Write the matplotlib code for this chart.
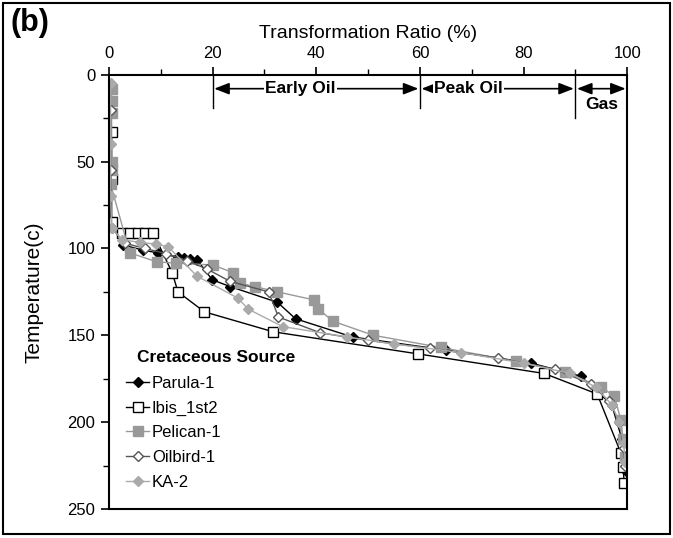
#!/usr/bin/env python
#######################################################################

import matplotlib
matplotlib.use('Agg')
import matplotlib.pyplot as plt
from matplotlib.patches import Rectangle
from matplotlib.ticker import MultipleLocator

plt.rcParams['font.family'] = ['Liberation Sans', 'DejaVu Sans']

#######################################################################
# Data (transformation ratio %, temperature C)

parula_x = [0.2, 0.3, 2.7, 6.6, 9.5, 13.3, 14.5, 15.7, 17, 19.9, 23.4,
            32.5, 36, 47, 65, 81.4, 91, 97, 99, 99.5, 99.7]
parula_t = [70, 85, 98, 101, 102.6, 105, 105.5, 106, 106.5, 118, 122,
            131, 140.5, 151, 158.5, 166, 173.5, 190, 210, 222, 228]

ibis_x = [0.5, 0.5, 0.5, 2.5, 4, 5.5, 7, 8.5, 12.2, 13.3, 18.4, 31.7,
          59.6, 84, 94.2, 98.8, 99.2, 99.4]
ibis_t = [33, 60, 85, 91, 91, 91, 91, 91, 114, 125, 136.5, 148,
          160.7, 172, 183.8, 218, 226, 235]

pelican_x = [0.5, 0.5, 0.5, 0.5, 0.5, 0.3, 4, 9.2, 13, 20, 24, 25.3,
             28.2, 32.5, 39.5, 40.4, 43.3, 51, 64, 78.5, 88, 95, 97.5,
             98.8, 99.2, 99.5]
pelican_t = [8, 15, 22, 50, 55, 63, 102.5, 107.7, 108.5, 109.5, 114, 120,
             122, 125, 129.6, 135, 142, 150, 157, 165, 171, 180, 185,
             199, 210, 220]

oilbird_x = [0.3, 0.3, 0.5, 3, 7, 11, 15, 19, 23.4, 30.8, 32.7, 40.8,
             50, 62, 75, 86, 93, 96.5, 98.5, 99.3, 99.6]
oilbird_t = [20, 55, 88, 97, 100, 103, 107, 112, 119, 125, 139.5, 148.6,
             153, 157.5, 163, 169.5, 178, 188, 200, 215, 225]

ka2_x = [0.3, 0.3, 0.3, 0.5, 2.5, 6, 9, 11.4, 17, 24.8, 26.9, 33.5, 46,
         55, 68, 80, 89, 94, 97, 98.5, 99.3, 99.6]
ka2_t = [5, 40, 70, 88, 95, 96.5, 97.5, 99, 116, 128.5, 135, 145, 151,
         155, 160, 166, 172, 180, 190, 200, 212, 223]

# maturity windows along the top
zones = [('Early Oil', 20, 60, 36.9), ('Peak Oil', 60, 90, 69.4)]

#######################################################################
# Plotting

fig = plt.figure(figsize=(6.73, 5.38), dpi=100)
ax = fig.add_axes([0.162, 0.054, 0.770, 0.807])

ax.plot(parula_x, parula_t, color='black', lw=1, marker='D', ms=5,
        mfc='black', mec='black', label='Parula-1')
ax.plot(ibis_x, ibis_t, color='black', lw=1, marker='s', ms=7,
        mfc='white', mec='black', label='Ibis_1st2')
ax.plot(pelican_x, pelican_t, color='#999999', lw=1, marker='s', ms=7,
        mfc='#999999', mec='#999999', label='Pelican-1')
ax.plot(oilbird_x, oilbird_t, color='#555555', lw=1, marker='D', ms=5,
        mfc='white', mec='#555555', label='Oilbird-1')
ax.plot(ka2_x, ka2_t, color='#aaaaaa', lw=1, marker='D', ms=5,
        mfc='#aaaaaa', mec='#aaaaaa', label='KA-2')

ax.set_xlim(0, 100)
ax.set_ylim(250, 0)

# x-axis on top
ax.xaxis.tick_top()
ax.xaxis.set_label_position('top')
ax.set_xlabel('Transformation Ratio (%)', fontsize=14, labelpad=6)
ax.xaxis.set_major_locator(MultipleLocator(20))
ax.xaxis.set_minor_locator(MultipleLocator(10))
ax.yaxis.set_major_locator(MultipleLocator(50))
ax.yaxis.set_minor_locator(MultipleLocator(25))
ax.tick_params(which='major', length=6, width=1.2, labelsize=12, pad=4)
ax.tick_params(which='minor', length=4, width=1)
ax.set_ylabel('Temperature(c)', fontsize=15, labelpad=17)
for s in ax.spines.values():
    s.set_linewidth(1.5)

# zone markers
for name, x0, x1, xt in zones:
    ax.annotate('', xy=(x0 + 0.3, 8), xytext=(x1 - 0.3, 8),
                arrowprops=dict(arrowstyle='<|-|>,head_length=0.9,head_width=0.35',
                                color='black', lw=1.2, shrinkA=0, shrinkB=0))
    ax.text(xt, 8, name, ha='center', va='center', fontsize=12.5,
            fontweight='bold', bbox=dict(facecolor='white', edgecolor='none', pad=1))
ax.annotate('', xy=(90.3, 8), xytext=(99.7, 8),
            arrowprops=dict(arrowstyle='<|-|>,head_length=0.9,head_width=0.35',
                            color='black', lw=1.2, shrinkA=0, shrinkB=0))
ax.text(95, 17, 'Gas', ha='center', va='center', fontsize=12.5, fontweight='bold')
ax.plot([20, 20], [0, 19], color='black', lw=1)
ax.plot([60, 60], [0, 19], color='black', lw=1)
ax.plot([90, 90], [0, 25], color='black', lw=1)

# legend, with its title as a separate text so it can sit indented
ax.text(0.054, 0.349, 'Cretaceous Source', transform=ax.transAxes,
        fontsize=12.5, fontweight='bold', ha='left', va='center')
leg = ax.legend(loc='upper left', bbox_to_anchor=(0.02, 0.322), frameon=False,
                fontsize=12, handlelength=1.4, handletextpad=0.15,
                labelspacing=0.58, borderaxespad=0.0)

# figure label and frame
fig.text(0.015, 0.985, '(b)', fontsize=22, fontweight='bold', va='top', ha='left')
fig.patches.append(Rectangle((0.004, 0.008), 0.992, 0.986, transform=fig.transFigure,
                             fill=False, lw=1.5, edgecolor='black'))

fig.savefig('out.png', dpi=100)
